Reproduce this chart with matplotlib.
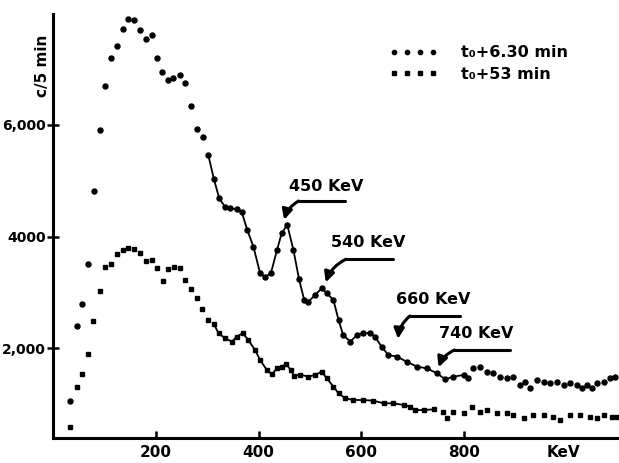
import numpy as np
import matplotlib
matplotlib.use("Agg")
import matplotlib.pyplot as plt

plt.rcParams['font.family'] = ['DejaVu Sans']
plt.rcParams['font.weight'] = 'bold'

# t0 + 6.30 min (round dots)
energy_early = [32, 45, 55, 67, 80, 91, 101, 113, 123, 135, 146, 157, 169, 180, 192,
                201, 212, 223, 234, 247, 257, 269, 280, 292, 302, 313, 323, 335, 345, 357,
                367, 378, 390, 403, 413, 424, 436, 445, 456, 468, 479, 489, 497, 510, 523,
                533, 546, 556, 565, 579, 592, 604, 617, 627, 640, 653, 670, 689, 709, 728,
                748, 764, 780, 800, 809, 819, 832, 845, 858, 871, 884, 897, 910, 920, 930,
                943, 956, 969, 982, 995, 1008, 1021, 1031, 1040, 1050, 1060, 1073, 1086, 1096]
counts_early = [1062, 2405, 2793, 3515, 4822, 5909, 6691, 7193, 7407, 7712, 7902, 7878, 7699, 7533, 7610,
                7204, 6947, 6804, 6840, 6888, 6756, 6344, 5927, 5784, 5456, 5027, 4691, 4525, 4507, 4489,
                4446, 4118, 3819, 3343, 3282, 3343, 3760, 4059, 4208, 3760, 3235, 2865, 2834, 2950, 3074,
                2985, 2865, 2507, 2238, 2119, 2238, 2269, 2280, 2208, 2029, 1880, 1850, 1760, 1671, 1642,
                1552, 1445, 1492, 1522, 1463, 1642, 1671, 1581, 1552, 1492, 1463, 1492, 1343, 1403, 1284,
                1432, 1403, 1373, 1403, 1343, 1373, 1343, 1284, 1343, 1284, 1373, 1403, 1463, 1492]

# t0 + 53 min (small squares)
energy_late = [32, 45, 55, 68, 78, 91, 101, 112, 123, 135, 146, 157, 168, 181, 192,
               201, 213, 224, 235, 247, 257, 269, 280, 290, 301, 313, 322, 335, 348, 357,
               369, 380, 393, 403, 416, 426, 436, 445, 454, 463, 469, 481, 497, 510, 523,
               533, 546, 556, 569, 585, 604, 624, 644, 663, 683, 696, 705, 722, 742, 760,
               767, 780, 800, 816, 832, 845, 865, 884, 897, 917, 936, 956, 975, 988, 1008,
               1027, 1047, 1060, 1073, 1089, 1099]
counts_late = [596, 1302, 1534, 1903, 2483, 3031, 3450, 3509, 3683, 3760, 3790, 3775, 3700, 3569, 3580,
               3432, 3210, 3415, 3450, 3432, 3223, 3057, 2895, 2698, 2507, 2430, 2269, 2179, 2119, 2208,
               2269, 2149, 1970, 1791, 1612, 1534, 1642, 1671, 1713, 1612, 1504, 1530, 1492, 1522, 1581,
               1463, 1313, 1194, 1105, 1074, 1074, 1062, 1015, 1015, 985, 955, 895, 895, 907, 865,
               747, 865, 836, 955, 865, 895, 836, 850, 806, 747, 806, 806, 776, 716, 806,
               806, 776, 747, 806, 776, 776]

x_ticks = [200, 400, 600, 800]
y_ticks = [2000, 4000, 6000]
y_tick_labels = ["2,000", "4000", "6,000"]

# peak labels: arrow tip, horizontal leader, text position (keV, counts)
peak_names = ["450 KeV", "540 KeV", "660 KeV", "740 KeV"]
peak_tip_e = [450, 531, 672, 751]
peak_tip_c = [4300, 3180, 2170, 1660]
leader_e0 = [478, 570, 695, 782]
leader_e1 = [569, 663, 793, 891]
leader_c = [4637, 3594, 2578, 1970]
label_e = [532, 614, 741, 825]
label_c = [4888, 3891, 2865, 2269]

e_early = np.array(energy_early)
c_early = np.array(counts_early)
e_late = np.array(energy_late)
c_late = np.array(counts_late)

fig = plt.figure(figsize=(6.19, 4.63), dpi=100)
ax = fig.add_axes([0.0864, 0.054, 0.9136, 0.916])

# connecting lines through the resolved region
m1 = (e_early >= 300) & (e_early <= 810)
ax.plot(e_early[m1], c_early[m1], '-', color='black', lw=1.3)
m2 = (e_late >= 310) & (e_late <= 745)
ax.plot(e_late[m2], c_late[m2], '-', color='black', lw=1.3)

ax.plot(e_early, c_early, 'o', color='black', ms=3.6, ls='none', label='t₀+6.30 min')
ax.plot(e_late, c_late, 's', color='black', ms=2.8, ls='none', label='t₀+53 min')

for name, te, tc, l0, l1, lc, xe, xc in zip(peak_names, peak_tip_e, peak_tip_c,
                                            leader_e0, leader_e1, leader_c, label_e, label_c):
    ax.plot([l0, l1], [lc, lc], color='black', lw=2.2, solid_capstyle='round')
    ax.annotate('', xy=(te, tc), xytext=(l0, lc),
                arrowprops=dict(arrowstyle='-|>,head_length=0.6,head_width=0.3', color='black', lw=2.2,
                                connectionstyle='arc3,rad=0.2', shrinkA=0, shrinkB=0))
    ax.text(xe, xc, name, ha='center', va='center', fontsize=11.5, fontweight='bold')

ax.set_xlim(0, 1103)
ax.set_ylim(394, 7987)
ax.set_xticks(x_ticks)
ax.set_xticklabels([str(t) for t in x_ticks])
ax.set_yticks(y_ticks)
ax.set_yticklabels(y_tick_labels)
ax.tick_params(axis='x', direction='in', length=5, width=1.8, labelsize=11, pad=5)
ax.tick_params(axis='y', direction='inout', length=9, width=1.8, labelsize=10, pad=1)

ax.annotate('KeV', xy=(994, 0), xycoords=('data', 'axes fraction'), xytext=(0, -5),
            textcoords='offset points', ha='center', va='top', fontsize=11, fontweight='bold')
ax.text(-0.02, 0.877, 'c/5 min', transform=ax.transAxes, rotation=90, ha='center', va='center',
        fontsize=11, fontweight='bold')

for s in ['top', 'right']:
    ax.spines[s].set_visible(False)
for s in ['left', 'bottom']:
    ax.spines[s].set_linewidth(2.2)

ax.legend(loc='upper left', bbox_to_anchor=(0.58, 0.945), frameon=False, numpoints=4,
          handlelength=3.0, handletextpad=1.5, fontsize=11.5, labelspacing=0.4,
          markerscale=0.85, borderpad=0)

fig.savefig('out.png', dpi=100)
